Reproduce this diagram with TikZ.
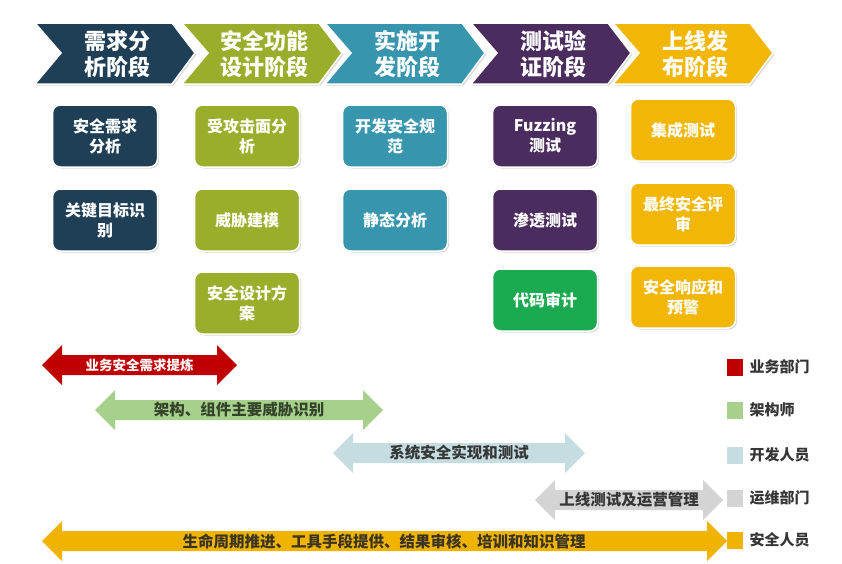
\documentclass[tikz,border=0pt]{standalone}
\usepackage{fontspec}
\setmainfont{Noto Sans CJK SC}
\usetikzlibrary{shadows}

\definecolor{navy}{HTML}{1F3F56}
\definecolor{olive}{HTML}{9AAE2B}
\definecolor{teal}{HTML}{3795AE}
\definecolor{plum}{HTML}{4B2C5E}
\definecolor{amber}{HTML}{F2B606}
\definecolor{leaf}{HTML}{1BAA50}
\definecolor{bizred}{HTML}{C00000}
\definecolor{archgreen}{HTML}{A8D08D}
\definecolor{devblue}{HTML}{C5DDE1}
\definecolor{opsgray}{HTML}{D4D4D4}
\definecolor{secyellow}{HTML}{F0B400}
\definecolor{inkgray}{HTML}{363636}
\definecolor{inkgreen}{HTML}{34442A}
\definecolor{inkbrown}{HTML}{3A3420}

\tikzset{
  phase/.style={fill=#1, draw=white, line width=1.5pt,
    drop shadow={shadow xshift=1.5pt, shadow yshift=-1.5pt, opacity=0.3}},
  phasetext/.style={text=white, align=center,
    font=\bfseries\fontsize{22}{26}\selectfont},
  task/.style={fill=#1, draw=white, line width=1.5pt, rounded corners=8pt,
    minimum width=105pt, minimum height=62pt, align=center, text=white,
    font=\bfseries\fontsize{16}{20}\selectfont,
    drop shadow={shadow xshift=1.5pt, shadow yshift=-1.5pt, opacity=0.3}},
  lanetext/.style={text=#1, font=\bfseries\fontsize{15.5}{18}\selectfont},
  role/.style={fill=#1, minimum width=16pt, minimum height=17pt, inner sep=0pt},
  roletext/.style={anchor=west, text=inkgray, font=\bfseries\fontsize{15}{18}\selectfont}
}

% double headed band from x #1 to x #2 at height #3
\newcommand{\lane}[4]{%
  \fill[#4] (#1,#3) -- (#1+20,#3-20) -- (#1+20,#3-10) -- (#2-20,#3-10)
    -- (#2-20,#3-20) -- (#2,#3) -- (#2-20,#3+20) -- (#2-20,#3+10)
    -- (#1+20,#3+10) -- (#1+20,#3+20) -- cycle;}

\begin{document}
\begin{tikzpicture}[x=1pt, y=-1pt]
  \path[use as bounding box, fill=white] (0,0) rectangle (842,563);

  % phases
  \foreach \L/\c/\n/\txt in {35/navy/req/{需求分\\析阶段},
      182/olive/des/{安全功能\\设计阶段}, 325/teal/dev/{实施开\\发阶段},
      471/plum/tst/{测试验\\证阶段}, 613/amber/rel/{上线发\\布阶段}}
  {
    \filldraw[phase=\c] (\L,23) -- (\L+137,23) -- (\L+160,53)
      -- (\L+137,84) -- (\L,84) -- (\L+26,53) -- cycle;
    \node[phasetext] (\n) at (\L+82,54) {\txt};
  }

  % tasks
  \node[task=navy] (req1) at (105,136) {安全需求\\分析};
  \node[task=navy] (req2) at (105,220) {关键目标识\\别};

  \node[task=olive] (des1) at (247,136) {受攻击面分\\析};
  \node[task=olive] (des2) at (247,220) {威胁建模};
  \node[task=olive] (des3) at (247,303) {安全设计方\\案};

  \node[task=teal] (dev1) at (395,136) {开发安全规\\范};
  \node[task=teal] (dev2) at (395,220) {静态分析};

  \node[task=plum] (tst1) at (545,136) {Fuzzing\\测试};
  \node[task=plum] (tst2) at (545,220) {渗透测试};
  \node[task=leaf] (tst3) at (545,300) {代码审计};

  \node[task=amber] (rel1) at (683,130) {集成测试};
  \node[task=amber] (rel2) at (683,214) {最终安全评\\审};
  \node[task=amber] (rel3) at (683,297) {安全响应和\\预警};

  % responsibility bands
  \lane{42}{237}{365}{bizred}
  \node[lanetext=white, font=\bfseries\fontsize{13.5}{16}\selectfont] (biz) at (139.5,365) {业务安全需求提炼};
  \lane{95}{383}{410}{archgreen}
  \node[lanetext=inkgreen] (arch) at (239,410) {架构、组件主要威胁识别};
  \lane{333}{585}{453}{devblue}
  \node[lanetext=inkgray] (impl) at (459,453) {系统安全实现和测试};
  \lane{535}{723}{500}{opsgray}
  \node[lanetext=inkgray] (ops) at (629,500) {上线测试及运营管理};
  \lane{42}{727}{541}{secyellow}
  \node[lanetext=inkbrown] (life) at (384,541) {生命周期推进、工具手段提供、结果审核、培训和知识管理};

  % legend
  \foreach \y/\c/\n/\txt in {367/bizred/k1/业务部门, 410/archgreen/k2/架构师,
      455/devblue/k3/开发人员, 498/opsgray/k4/运维部门, 540/secyellow/k5/安全人员}
  {
    \node[role=\c] (\n) at (735,\y) {};
    \node[roletext] at (746,\y) {\txt};
  }
\end{tikzpicture}
\end{document}
